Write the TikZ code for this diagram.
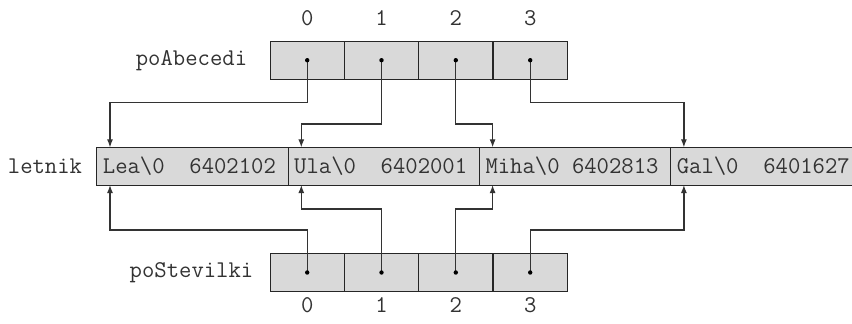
\documentclass[tikz,border=0pt]{standalone}
\usetikzlibrary{arrows.meta}
\newcommand{\tsp}{\hphantom{0}}
\begin{document}
\begin{tikzpicture}[x=0.5pt,y=-0.5pt,
  txt/.style={font=\ttfamily\fontsize{12}{14}\selectfont, text=black!80, inner sep=0pt},
  cell/.style={draw=black!85, fill=black!15, line width=0.5pt, minimum width=37.15pt, minimum height=19.1pt, inner sep=0pt, outer sep=0pt},
  rec/.style={draw=black!85, fill=black!15, line width=0.5pt, minimum height=18.85pt, inner ysep=0pt, inner xsep=3.1pt, text width=89.45pt, align=left, outer sep=0pt, font=\ttfamily\fontsize{12}{14}\selectfont, text=black!80},
  ptr/.style={draw=black!80, line width=0.6pt, -{Latex[length=4pt,width=3pt]}},
  dot/.style={fill=black}
]
\clip (0,0) rectangle (852,323);
\fill[white] (0,0) rectangle (852,323);
% top array
\foreach \i/\x in {0/307.2,1/381.5,2/455.8,3/530.2}{
  \node[cell] (a\i) at (\x,60.2) {};
  \node[txt] (ai\i) at (\x,18) {\i};
}
\node[txt] (la) at (191.5,60.2) {poAbecedi};
% bottom array
\foreach \i/\x in {0/307.2,1/381.5,2/455.8,3/530.2}{
  \node[cell] (b\i) at (\x,272.5) {};
  \node[txt] (bi\i) at (\x,305) {\i};
}
\node[txt] (lb) at (191.5,272.5) {poStevilki};
% letnik records
\node[rec] (l0) at (192.35,166.2) {Lea\textbackslash 0\tsp\tsp6402102};
\node[rec] (l1) at (383.65,166.2) {Ula\textbackslash 0\tsp\tsp6402001};
\node[rec] (l2) at (574.95,166.2) {Miha\textbackslash 0\tsp6402813};
\node[rec] (l3) at (766.25,166.2) {Gal\textbackslash 0\tsp\tsp6401627};
\node[txt] (ll) at (45,166.2) {letnik};
% targets
\foreach \i in {0,1,2,3}{
  \coordinate (t\i) at ([xshift=6.65pt]l\i.north west);
  \coordinate (s\i) at ([xshift=6.65pt]l\i.south west);
}
\coordinate (y1) at (0,102.7);
\coordinate (y2) at (0,124);
\coordinate (y3) at (0,209);
\coordinate (y4) at (0,230);
% top pointers
\draw[ptr] (a0.center) -- (a0.center |- y1) -| (t0);
\draw[ptr] (a1.center) -- (a1.center |- y2) -| (t1);
\draw[ptr] (a2.center) -- (a2.center |- y2) -| (t2);
\draw[ptr] (a3.center) -- (a3.center |- y1) -| (t3);
% bottom pointers
\draw[ptr] (b0.center) -- (b0.center |- y4) -| (s0);
\draw[ptr] (b1.center) -- (b1.center |- y3) -| (s1);
\draw[ptr] (b2.center) -- (b2.center |- y3) -| (s2);
\draw[ptr] (b3.center) -- (b3.center |- y4) -| (s3);
% dots
\foreach \i in {0,1,2,3}{
  \fill[dot] (a\i.center) circle[radius=1.1pt];
  \fill[dot] (b\i.center) circle[radius=1.1pt];
}
\end{tikzpicture}
\end{document}
